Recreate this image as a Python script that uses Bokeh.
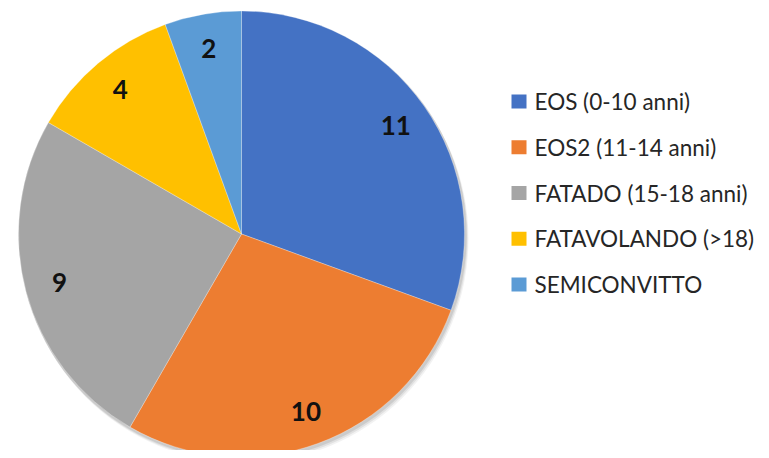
import math
from bokeh.plotting import figure
from bokeh.models import ColumnDataSource
from bokeh.core.properties import value
from bokeh.embed import file_html
from bokeh.resources import INLINE

categories = ["EOS  (0-10 anni)", "EOS2  (11-14 anni)", "FATADO  (15-18 anni)",
              "FATAVOLANDO (>18)", "SEMICONVITTO"]
counts = [11, 10, 9, 4, 2]
colors = ["#4472C4", "#ED7D31", "#A5A5A5", "#FFC000", "#5B9BD5"]

W, H = 761, 450
p = figure(width=W, height=H, x_range=(0, W), y_range=(0, H),
           output_backend="svg", toolbar_location=None, min_border=0)
p.axis.visible = False
p.grid.visible = False
p.outline_line_color = None
p.background_fill_color = "white"

def sx(x):
    return x

def sy(y):
    return H - y

cx, cy, R = sx(241), sy(233.5), 223
total = sum(counts)
starts, ends, lx, ly = [], [], [], []
cum = 0
for v in counts:
    a0 = math.pi / 2 - 2 * math.pi * cum / total
    a1 = a0 - 2 * math.pi * v / total
    starts.append(a0)
    ends.append(a1)
    mid = (a0 + a1) / 2
    lx.append(cx + 0.845 * R * math.cos(mid))
    ly.append(cy + 0.845 * R * math.sin(mid))
    cum += v

src = ColumnDataSource(dict(start=starts, end=ends, color=colors,
                            lx=lx, ly=ly, lab=[str(c) for c in counts]))

# soft shadow
for off, a in [(5, 0.05), (3.5, 0.07), (2, 0.09)]:
    p.circle(x=cx + off * 0.6, y=cy - off, radius=R + 1, fill_color="black",
             fill_alpha=a, line_color=None)

p.wedge(x=cx, y=cy, radius=R, start_angle="end", end_angle="start",
        fill_color="color", line_color="white", line_width=0.3, source=src)

p.text(x="lx", y="ly", text="lab", source=src, text_font=value("Lato"),
       text_font_style="bold", text_font_size="26px", text_color="#111111",
       text_align="center", text_baseline="middle")

# legend
leg_x = sx(518.5)
leg_y0 = sy(101)
step = 45.75
ys = [leg_y0 - i * step for i in range(len(categories))]
xs = [leg_x] * len(categories)
lsrc = ColumnDataSource(dict(x=xs, y=ys, tx=[sx(534)] * len(categories),
                             name=categories, color=colors))
p.rect(x="x", y="y", width=15, height=14, fill_color="color", line_color=None,
       source=lsrc)
p.text(x="tx", y="y", text="name", source=lsrc, text_font=value("Lato"),
       text_font_size="22.5px", text_color="#262626", text_align="left",
       text_baseline="middle")

open("out.html", "w").write(file_html(p, INLINE))
